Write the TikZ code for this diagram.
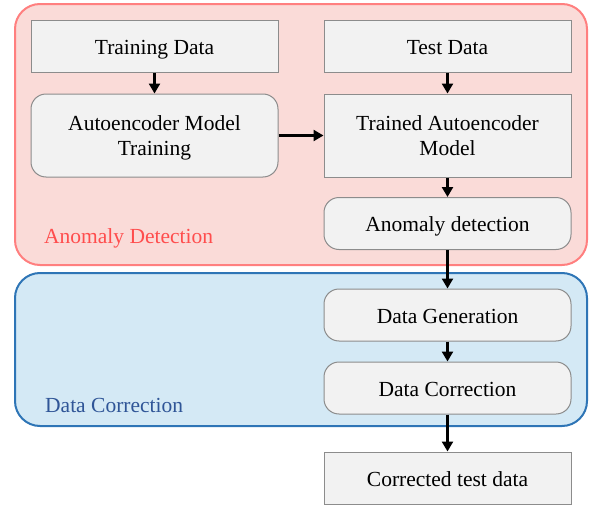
\documentclass[tikz,border=0pt]{standalone}
\usepackage{fontspec}
\setmainfont{Liberation Serif}
\usetikzlibrary{arrows.meta}
\definecolor{redfill}{HTML}{FADBD8}
\definecolor{redline}{HTML}{FF7F7F}
\definecolor{redtext}{HTML}{FF4D4D}
\definecolor{bluefill}{HTML}{D4E9F5}
\definecolor{blueline}{HTML}{2E75B6}
\definecolor{bluetext}{HTML}{2F5597}
\definecolor{boxfill}{HTML}{F2F2F2}
\definecolor{boxline}{HTML}{8C8C8C}
\tikzset{
  group/.style={rounded corners=25pt, line width=2pt, minimum width=572pt, inner sep=0pt},
  stage/.style={draw=boxline, fill=boxfill, line width=1pt, minimum width=247pt,
    minimum height=52pt, inner sep=0pt, align=center,
    text height=21pt, text depth=5pt,
    font=\fontsize{21.5pt}{24.5pt}\selectfont},
  twoline/.style={minimum height=83pt, text height=44pt, text depth=5pt},
  softstage/.style={stage, rounded corners=15pt},
  grouplabel/.style={anchor=west, inner sep=0pt, font=\fontsize{21.5pt}{24pt}\selectfont},
  flow/.style={line width=2.5pt, -{Triangle[length=10pt,width=11pt]}}
}
\begin{document}
\begin{tikzpicture}[x=1pt, y=-1pt]
\useasboundingbox (0,0) rectangle (590,506);
% containers
\node (detgrp) [group, draw=redline, fill=redfill, minimum height=261pt] at (301,134.5) {};
\node (corgrp) [group, draw=blueline, fill=bluefill, minimum height=153pt] at (301,349.5) {};
\node (detlbl) [grouplabel, text=redtext] at (44,238) {Anomaly Detection};
\node (corlbl) [grouplabel, text=bluetext] at (45,405) {Data Correction};
% stages
\node (train) [stage] at (154.5,46) {Training Data};
\node (aetrain) [softstage, twoline] at (154.5,135.5) {Autoencoder Model\\Training};
\node (test) [stage] at (447.5,46) {Test Data};
\node (trained) [stage, twoline] at (447.5,135.5) {Trained Autoencoder\\Model};
\node (anom) [softstage] at (447.5,223.5) {Anomaly detection};
\node (gen) [softstage] at (447.5,315) {Data Generation};
\node (corr) [softstage] at (447.5,388) {Data Correction};
\node (out) [stage] at (447.5,478) {Corrected test data};
% flow
\draw[flow] (train) -- (aetrain);
\draw[flow] (aetrain) -- (trained);
\draw[flow] (test) -- (trained);
\draw[flow] (trained) -- (anom);
\draw[flow] (anom) -- (gen);
\draw[flow] (gen) -- (corr);
\draw[flow] (corr) -- (out);
\end{tikzpicture}
\end{document}
